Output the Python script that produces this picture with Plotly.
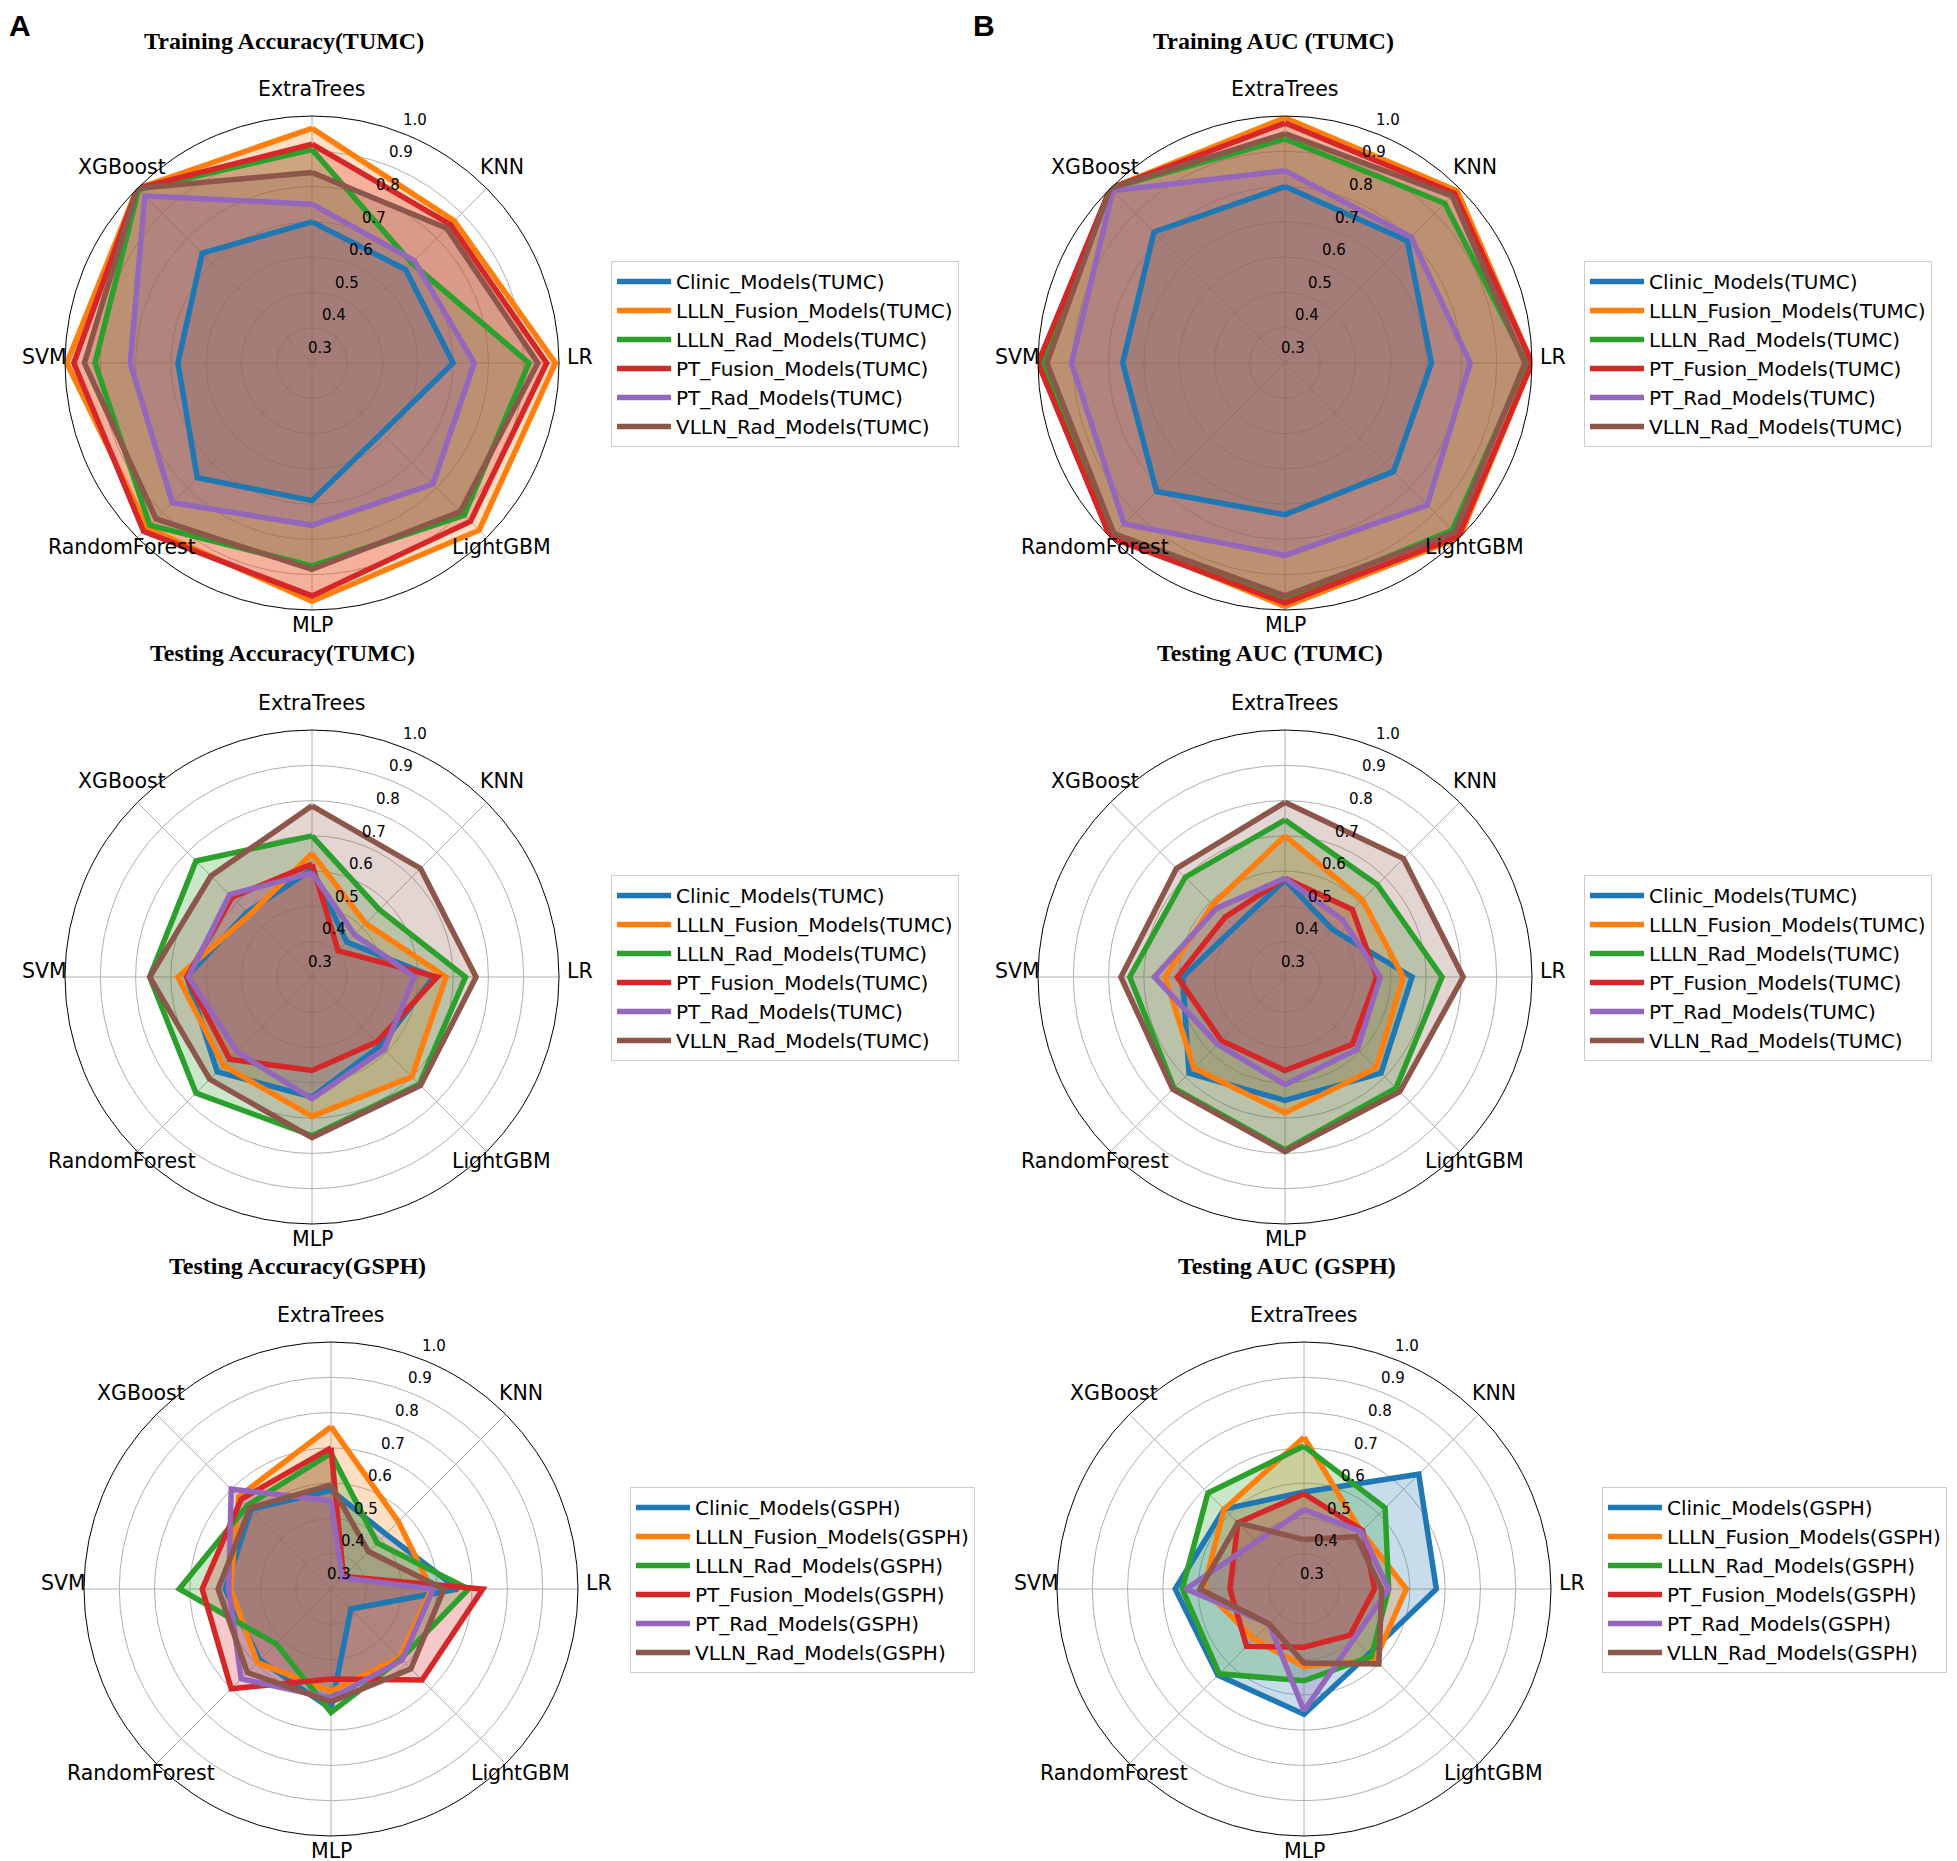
import math
import plotly.graph_objects as go

W, H = 1957, 1861

categories = ["ExtraTrees", "KNN", "LR", "LightGBM", "MLP", "RandomForest", "SVM", "XGBoost"]
model_names = ["Clinic_Models", "LLLN_Fusion_Models", "LLLN_Rad_Models",
               "PT_Fusion_Models", "PT_Rad_Models", "VLLN_Rad_Models"]
colors = ["#1f77b4", "#ff7f0e", "#2ca02c", "#d62728", "#9467bd", "#8c564b"]
radial_ticks = [0.3, 0.4, 0.5, 0.6, 0.7, 0.8, 0.9, 1.0]

# rows follow model_names, columns follow categories
train_acc_tumc = [
    [0.70, 0.675, 0.70, 0.58, 0.69, 0.76, 0.68, 0.74],
    [0.965, 0.87, 0.99, 0.97, 0.975, 0.96, 0.995, 1.0],
    [0.905, 0.70, 0.915, 0.91, 0.875, 0.95, 0.915, 0.995],
    [0.92, 0.855, 0.965, 0.935, 0.96, 0.975, 0.975, 1.0],
    [0.75, 0.71, 0.76, 0.785, 0.76, 0.86, 0.815, 0.97],
    [0.84, 0.84, 0.94, 0.895, 0.885, 0.925, 0.945, 1.0],
]
train_auc_tumc = [
    [0.80, 0.79, 0.715, 0.735, 0.73, 0.815, 0.76, 0.825],
    [0.995, 0.99, 1.0, 1.0, 0.99, 0.99, 0.99, 1.0],
    [0.935, 0.94, 0.985, 0.97, 0.97, 0.985, 0.99, 1.0],
    [0.98, 0.98, 1.0, 0.995, 0.98, 1.0, 1.0, 1.0],
    [0.845, 0.805, 0.825, 0.87, 0.845, 0.945, 0.905, 0.99],
    [0.95, 0.97, 0.98, 0.98, 0.96, 0.985, 0.975, 1.0],
]
test_acc_tumc = [
    [0.605, 0.44, 0.645, 0.575, 0.64, 0.68, 0.655, 0.56],
    [0.65, 0.515, 0.68, 0.70, 0.695, 0.655, 0.68, 0.55],
    [0.70, 0.57, 0.735, 0.73, 0.75, 0.765, 0.76, 0.765],
    [0.62, 0.405, 0.655, 0.56, 0.565, 0.63, 0.655, 0.62],
    [0.595, 0.47, 0.59, 0.59, 0.645, 0.60, 0.65, 0.63],
    [0.785, 0.735, 0.765, 0.735, 0.755, 0.71, 0.76, 0.705],
]
test_auc_tumc = [
    [0.575, 0.49, 0.66, 0.685, 0.65, 0.685, 0.59, 0.50],
    [0.70, 0.61, 0.635, 0.665, 0.685, 0.665, 0.64, 0.59],
    [0.745, 0.67, 0.745, 0.745, 0.79, 0.745, 0.74, 0.70],
    [0.58, 0.57, 0.56, 0.57, 0.565, 0.555, 0.605, 0.54],
    [0.58, 0.53, 0.57, 0.59, 0.605, 0.57, 0.67, 0.575],
    [0.795, 0.775, 0.805, 0.76, 0.795, 0.75, 0.765, 0.735],
]
test_acc_gsph = [
    [0.58, 0.52, 0.66, 0.38, 0.64, 0.585, 0.60, 0.62],
    [0.76, 0.57, 0.585, 0.575, 0.59, 0.595, 0.585, 0.67],
    [0.685, 0.485, 0.69, 0.58, 0.65, 0.52, 0.73, 0.635],
    [0.70, 0.35, 0.73, 0.665, 0.555, 0.70, 0.665, 0.66],
    [0.55, 0.345, 0.59, 0.585, 0.61, 0.66, 0.59, 0.70],
    [0.595, 0.45, 0.62, 0.62, 0.62, 0.635, 0.62, 0.625],
]
test_auc_gsph = [
    [0.575, 0.76, 0.675, 0.56, 0.655, 0.645, 0.665, 0.62],
    [0.73, 0.53, 0.59, 0.585, 0.52, 0.50, 0.585, 0.62],
    [0.705, 0.625, 0.54, 0.57, 0.56, 0.64, 0.645, 0.685],
    [0.57, 0.535, 0.50, 0.485, 0.465, 0.53, 0.51, 0.565],
    [0.525, 0.53, 0.54, 0.50, 0.645, 0.44, 0.635, 0.49],
    [0.44, 0.51, 0.52, 0.60, 0.51, 0.44, 0.595, 0.565],
]

# (title, data, cohort, centre x px, centre y px, title x px, title y px, legend x px, legend y px)
panels = [
    ("Training Accuracy(TUMC)", train_acc_tumc, "TUMC", 304, 355, 276, 33, 603, 253),
    ("Training AUC (TUMC)", train_auc_tumc, "TUMC", 1277, 355, 1265, 33, 1576, 253),
    ("Testing Accuracy(TUMC)", test_acc_tumc, "TUMC", 304, 969, 274, 645, 603, 867),
    ("Testing AUC (TUMC)", test_auc_tumc, "TUMC", 1277, 969, 1262, 645, 1576, 867),
    ("Testing Accuracy(GSPH)", test_acc_gsph, "GSPH", 323, 1581, 289, 1258, 622, 1479),
    ("Testing AUC (GSPH)", test_auc_gsph, "GSPH", 1296, 1581, 1279, 1258, 1594, 1479),
]
R = 247
LABEL_R = 268
RLABEL_ANGLE = 67.5


def rgba(hex_color, a):
    h = hex_color.lstrip("#")
    return "rgba(%d,%d,%d,%s)" % (int(h[0:2], 16), int(h[2:4], 16), int(h[4:6], 16), a)


fig = go.Figure()
layout = {}
annotations = []

for k, (title, data, cohort, cx, cy, tx, ty, lx, ly) in enumerate(panels):
    sub = "polar" if k == 0 else "polar%d" % (k + 1)
    lname = "legend" if k == 0 else "legend%d" % (k + 1)
    # fills first (matplotlib draws fills under all lines)
    for i, vals in enumerate(data):
        fig.add_trace(go.Scatterpolar(
            r=vals + vals[:1], theta=categories + categories[:1],
            mode="lines", line=dict(color=colors[i], width=0),
            fill="toself", fillcolor=rgba(colors[i], 0.25),
            subplot=sub, showlegend=False, hoverinfo="skip"))
    for i, vals in enumerate(data):
        fig.add_trace(go.Scatterpolar(
            r=vals + vals[:1], theta=categories + categories[:1],
            mode="lines", name="%s(%s)" % (model_names[i], cohort),
            line=dict(color=colors[i], width=5.5),
            subplot=sub, legend=lname))

    layout[sub] = dict(
        domain=dict(x=[(cx - R) / W, (cx + R) / W], y=[1 - (cy + R) / H, 1 - (cy - R) / H]),
        bgcolor="white",
        radialaxis=dict(range=[0.3, 1.0], tickvals=radial_ticks, showticklabels=False,
                        angle=RLABEL_ANGLE, showline=False, ticks="",
                        gridcolor="#b0b0b0", gridwidth=1),
        angularaxis=dict(type="category", categoryarray=categories, rotation=90, direction="clockwise",
                         showline=True, linecolor="black", linewidth=1, ticks="", showticklabels=False,
                         gridcolor="#b0b0b0", gridwidth=1),
    )
    layout[lname] = dict(
        x=lx / W, y=1 - ly / H, xanchor="left", yanchor="top", itemwidth=54,
        bgcolor="white", bordercolor="#cccccc", borderwidth=1,
        font=dict(family="DejaVu Sans", size=20, color="black"))
    annotations.append(dict(
        text="<b>%s</b>" % title, x=tx / W, y=1 - ty / H, xref="paper", yref="paper",
        xanchor="center", yanchor="middle", showarrow=False,
        font=dict(family="Liberation Serif", size=24, color="black")))
    # category labels centred just outside the circle, as matplotlib does
    for j, cat in enumerate(categories):
        ang = math.radians(90 - 45 * j)
        annotations.append(dict(
            text=cat, x=(cx + LABEL_R * math.cos(ang)) / W,
            y=1 - (cy - LABEL_R * math.sin(ang) - 6) / H,
            xref="paper", yref="paper", xanchor="center", yanchor="middle", showarrow=False,
            font=dict(family="DejaVu Sans", size=20.5, color="black")))
    # radial tick labels along the 67.5 degree direction, nudged up-right like matplotlib
    ra = math.radians(RLABEL_ANGLE)
    for t in radial_ticks:
        rr = (t - 0.3) / 0.7 * R
        annotations.append(dict(
            text="%.1f" % t, x=(cx + rr * math.cos(ra) + 8) / W,
            y=1 - (cy - rr * math.sin(ra) - 15) / H,
            xref="paper", yref="paper", xanchor="center", yanchor="middle", showarrow=False,
            font=dict(family="DejaVu Sans", size=15, color="black")))

annotations.append(dict(text="<b>A</b>", x=0.0, y=1.0, xref="paper", yref="paper",
                        xanchor="left", yanchor="top", showarrow=False, borderpad=0,
                        font=dict(family="Liberation Sans", size=30, color="black")))
annotations.append(dict(text="<b>B</b>", x=964 / W, y=1.0, xref="paper", yref="paper",
                        xanchor="left", yanchor="top", showarrow=False, borderpad=0,
                        font=dict(family="Liberation Sans", size=30, color="black")))

fig.update_layout(width=W, height=H, margin=dict(l=0, r=0, t=0, b=0),
                  paper_bgcolor="white", showlegend=True, annotations=annotations, **layout)

fig.write_html("out.html")
